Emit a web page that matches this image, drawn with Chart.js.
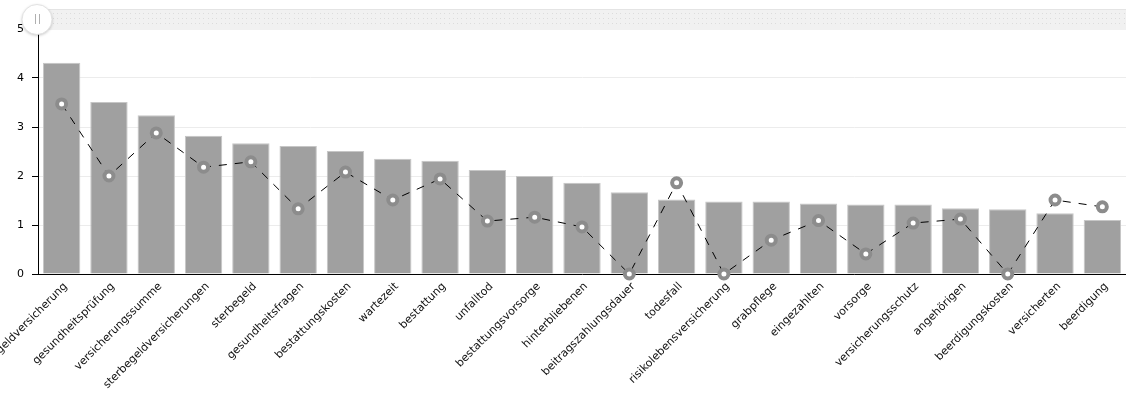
<!DOCTYPE html>
<html>
<head>
<meta charset="utf-8">
<script src="https://cdn.jsdelivr.net/npm/chart.js@4.4.1/dist/chart.umd.min.js"></script>
<style>
  html, body { margin: 0; padding: 0; background: #ffffff; }
  #wrap { width: 1126px; height: 394px; position: relative; }
</style>
</head>
<body>
<div id="wrap"><canvas id="c" width="1126" height="394"></canvas></div>
<script>
const categories = [
  "sterbegeldversicherung", "gesundheitsprüfung", "versicherungssumme", "sterbegeldversicherungen",
  "sterbegeld", "gesundheitsfragen", "bestattungskosten", "wartezeit", "bestattung", "unfalltod",
  "bestattungsvorsorge", "hinterbliebenen", "beitragszahlungsdauer", "todesfall",
  "risikolebensversicherung", "grabpflege", "eingezahlten", "vorsorge", "versicherungsschutz",
  "angehörigen", "beerdigungskosten", "versicherten", "beerdigung"
];
const barValues = [
  4.31, 3.51, 3.24, 2.82, 2.67, 2.61, 2.51, 2.35, 2.31, 2.12,
  2.00, 1.86, 1.67, 1.52, 1.48, 1.48, 1.44, 1.42, 1.42,
  1.34, 1.32, 1.24, 1.10
];
// the line continues to one more (scrolled-out) point beyond the right edge
const lineValues = [
  3.47, 2.00, 2.88, 2.18, 2.29, 1.33, 2.08, 1.51, 1.94, 1.08,
  1.16, 0.96, 0.00, 1.86, 0.00, 0.69, 1.09, 0.41, 1.04,
  1.12, 0.00, 1.51, 1.37, 1.35
];
const yTicks = [0, 1, 2, 3, 4, 5];

const FONT = "'DejaVu Sans', Verdana, sans-serif";

const scrollbarPlugin = {
  id: 'scrollbar',
  afterDraw(chart) {
    const ctx = chart.ctx;
    const x0 = chart.chartArea.left, x1 = chart.width;
    const y0 = 9, y1 = 30;
    ctx.save();
    ctx.fillStyle = '#f1f1f1';
    ctx.fillRect(x0, y0, x1 - x0, y1 - y0);
    ctx.fillStyle = '#e4e4e4';
    ctx.fillRect(x0, y0, x1 - x0, 1);
    ctx.fillStyle = '#dcdcdc';
    for (let y = y0 + 4; y < y1 - 2; y += 5) {
      for (let x = x0 + 2; x < x1; x += 4.3) {
        ctx.fillRect(Math.round(x), y, 1, 1);
      }
    }
    // grip
    const cx = 37, cy = 19.5, r = 15;
    ctx.shadowColor = 'rgba(0,0,0,0.25)';
    ctx.shadowBlur = 3;
    ctx.shadowOffsetY = 1;
    ctx.beginPath();
    ctx.arc(cx, cy, r, 0, Math.PI * 2);
    ctx.fillStyle = '#ffffff';
    ctx.fill();
    ctx.shadowColor = 'transparent';
    ctx.strokeStyle = '#e2e2e2';
    ctx.lineWidth = 1;
    ctx.stroke();
    ctx.strokeStyle = '#b0b0b0';
    ctx.beginPath();
    ctx.moveTo(35.5, 14); ctx.lineTo(35.5, 24);
    ctx.moveTo(39.5, 14); ctx.lineTo(39.5, 24);
    ctx.stroke();
    ctx.restore();
  }
};

new Chart(document.getElementById('c'), {
  data: {
    labels: categories,
    datasets: [
      {
        type: 'line',
        data: lineValues,
        order: 0,
        borderColor: '#000000',
        borderWidth: 1,
        borderDash: [8, 8],
        tension: 0,
        fill: false,
        clip: false,
        pointRadius: 4.5,
        pointBorderWidth: 4,
        pointBackgroundColor: '#ffffff',
        pointBorderColor: '#8c8c8c',
        pointHoverRadius: 4.5
      },
      {
        type: 'bar',
        data: barValues,
        order: 1,
        backgroundColor: '#a0a0a0',
        borderColor: '#c6c6c6',
        borderWidth: 1,
        categoryPercentage: 1.0,
        barPercentage: 0.79
      }
    ]
  },
  options: {
    responsive: false,
    animation: false,
    events: [],
    layout: { autoPadding: false, padding: { top: 29, left: 0, right: 0, bottom: 0 } },
    plugins: { legend: { display: false }, tooltip: { enabled: false } },
    scales: {
      x: {
        type: 'category',
        offset: true,
        grid: { display: false, drawTicks: false },
        border: { display: true, color: '#000000', width: 1 },
        ticks: {
          autoSkip: false,
          maxRotation: 45,
          minRotation: 45,
          padding: 6,
          labelOffset: 4,
          color: '#111111',
          font: { family: FONT, size: 11 }
        },
        afterFit(scale) {
          scale.height = 120;
          scale.paddingLeft = 0;
          scale.paddingRight = 0;
        }
      },
      y: {
        type: 'linear',
        min: 0,
        max: 5,
        afterBuildTicks(scale) {
          scale.ticks = yTicks.map(v => ({ value: v }));
        },
        grid: { color: '#ececec', tickColor: '#000000', tickLength: 6, lineWidth: 1 },
        border: { display: true, color: '#000000', width: 1 },
        ticks: {
          padding: 8,
          color: '#000000',
          font: { family: FONT, size: 11 }
        },
        afterFit(scale) {
          scale.width = 38;
          scale.paddingTop = 0;
          scale.paddingBottom = 0;
        }
      }
    }
  },
  plugins: [scrollbarPlugin]
});
</script>
</body>
</html>
